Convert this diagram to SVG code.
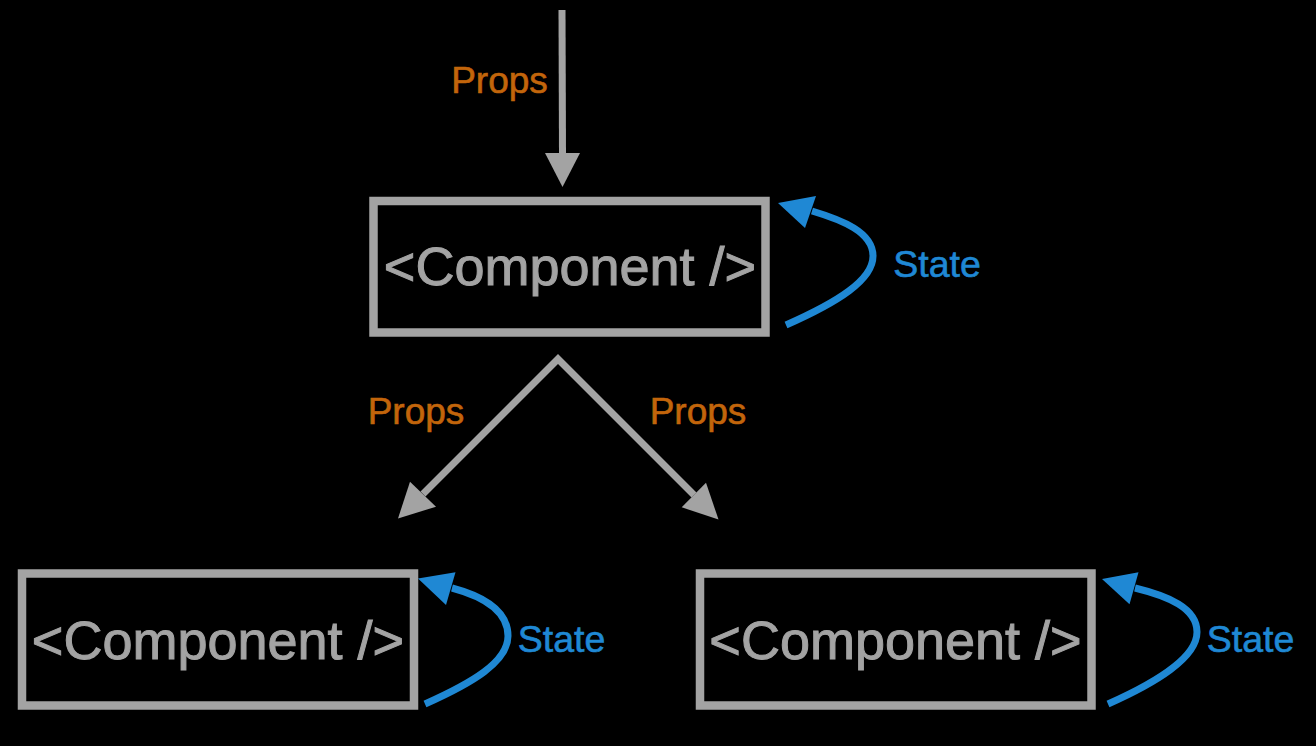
<svg xmlns="http://www.w3.org/2000/svg" width="1316" height="746" viewBox="0 0 1316 746">
  <style>
    .box { fill: #000; stroke: #a3a3a3; stroke-width: 8.5; }
    .comp { font-family: "Liberation Sans", Arial, sans-serif; font-size: 54px; fill: #a3a3a3; stroke: #a3a3a3; stroke-width: 1; text-anchor: middle; }
    .props { font-family: "Liberation Sans", Arial, sans-serif; font-size: 37px; fill: #c2650b; stroke: #c2650b; stroke-width: 0.6; text-anchor: middle; }
    .state { font-family: "Liberation Sans", Arial, sans-serif; font-size: 37.5px; fill: #1f88d4; stroke: #1f88d4; stroke-width: 0.6; text-anchor: middle; }
    .gline { fill: none; stroke: #a3a3a3; stroke-width: 7; stroke-linejoin: miter; stroke-miterlimit: 10; }
    .ghead { fill: #a3a3a3; }
    .bline { fill: none; stroke: #1f88d4; stroke-width: 7; }
    .bhead { fill: #1f88d4; }
  </style>
  <rect width="1316" height="746" fill="#000"/>

  <g id="connectors">
    <g id="props-in">
      <line class="gline" x1="562" y1="10" x2="562.5" y2="156"/>
      <polygon class="ghead" points="545,153 580,153 562.5,187"/>
    </g>
    <g id="props-split">
      <path class="gline" d="M 423,494 L 558,359 L 694,495"/>
      <polygon class="ghead" points="398,518.5 410,481.7 436,506.7"/>
      <polygon class="ghead" points="718.5,519.5 706,482.7 681.7,507.3"/>
    </g>
    <g id="state-top">
      <path class="bline" d="M 786,325 C 838,302 873,280 873,256 C 873,232 842,220 812,211"/>
      <polygon class="bhead" points="778,203 816,196 805,228"/>
    </g>
    <g id="state-left">
      <path class="bline" d="M 425,704 C 472,683 508,662 508,636 C 508,610 482,596 452,588"/>
      <polygon class="bhead" points="418,578.5 455.5,572.3 446,605"/>
    </g>
    <g id="state-right">
      <path class="bline" d="M 1108,704 C 1155,683 1197,658 1197,632 C 1197,608 1168,596 1135,588"/>
      <polygon class="bhead" points="1102,579 1138.5,572.3 1129.5,604.3"/>
    </g>
  </g>

  <g id="labels">
    <text class="props" x="499.5" y="93">Props</text>
    <text class="props" x="416" y="424">Props</text>
    <text class="props" x="698" y="424">Props</text>
    <text class="state" x="937" y="277">State</text>
    <text class="state" x="561.5" y="652">State</text>
    <text class="state" x="1250.5" y="652">State</text>
  </g>

  <g id="node-top">
    <rect class="box" x="373.5" y="201" width="392" height="131.5"/>
    <text class="comp" x="570" y="285">&lt;Component /&gt;</text>
  </g>
  <g id="node-left">
    <rect class="box" x="22" y="573.5" width="392" height="132"/>
    <text class="comp" x="218" y="659">&lt;Component /&gt;</text>
  </g>
  <g id="node-right">
    <rect class="box" x="700" y="573.5" width="391.5" height="132"/>
    <text class="comp" x="895.5" y="659">&lt;Component /&gt;</text>
  </g>
</svg>
